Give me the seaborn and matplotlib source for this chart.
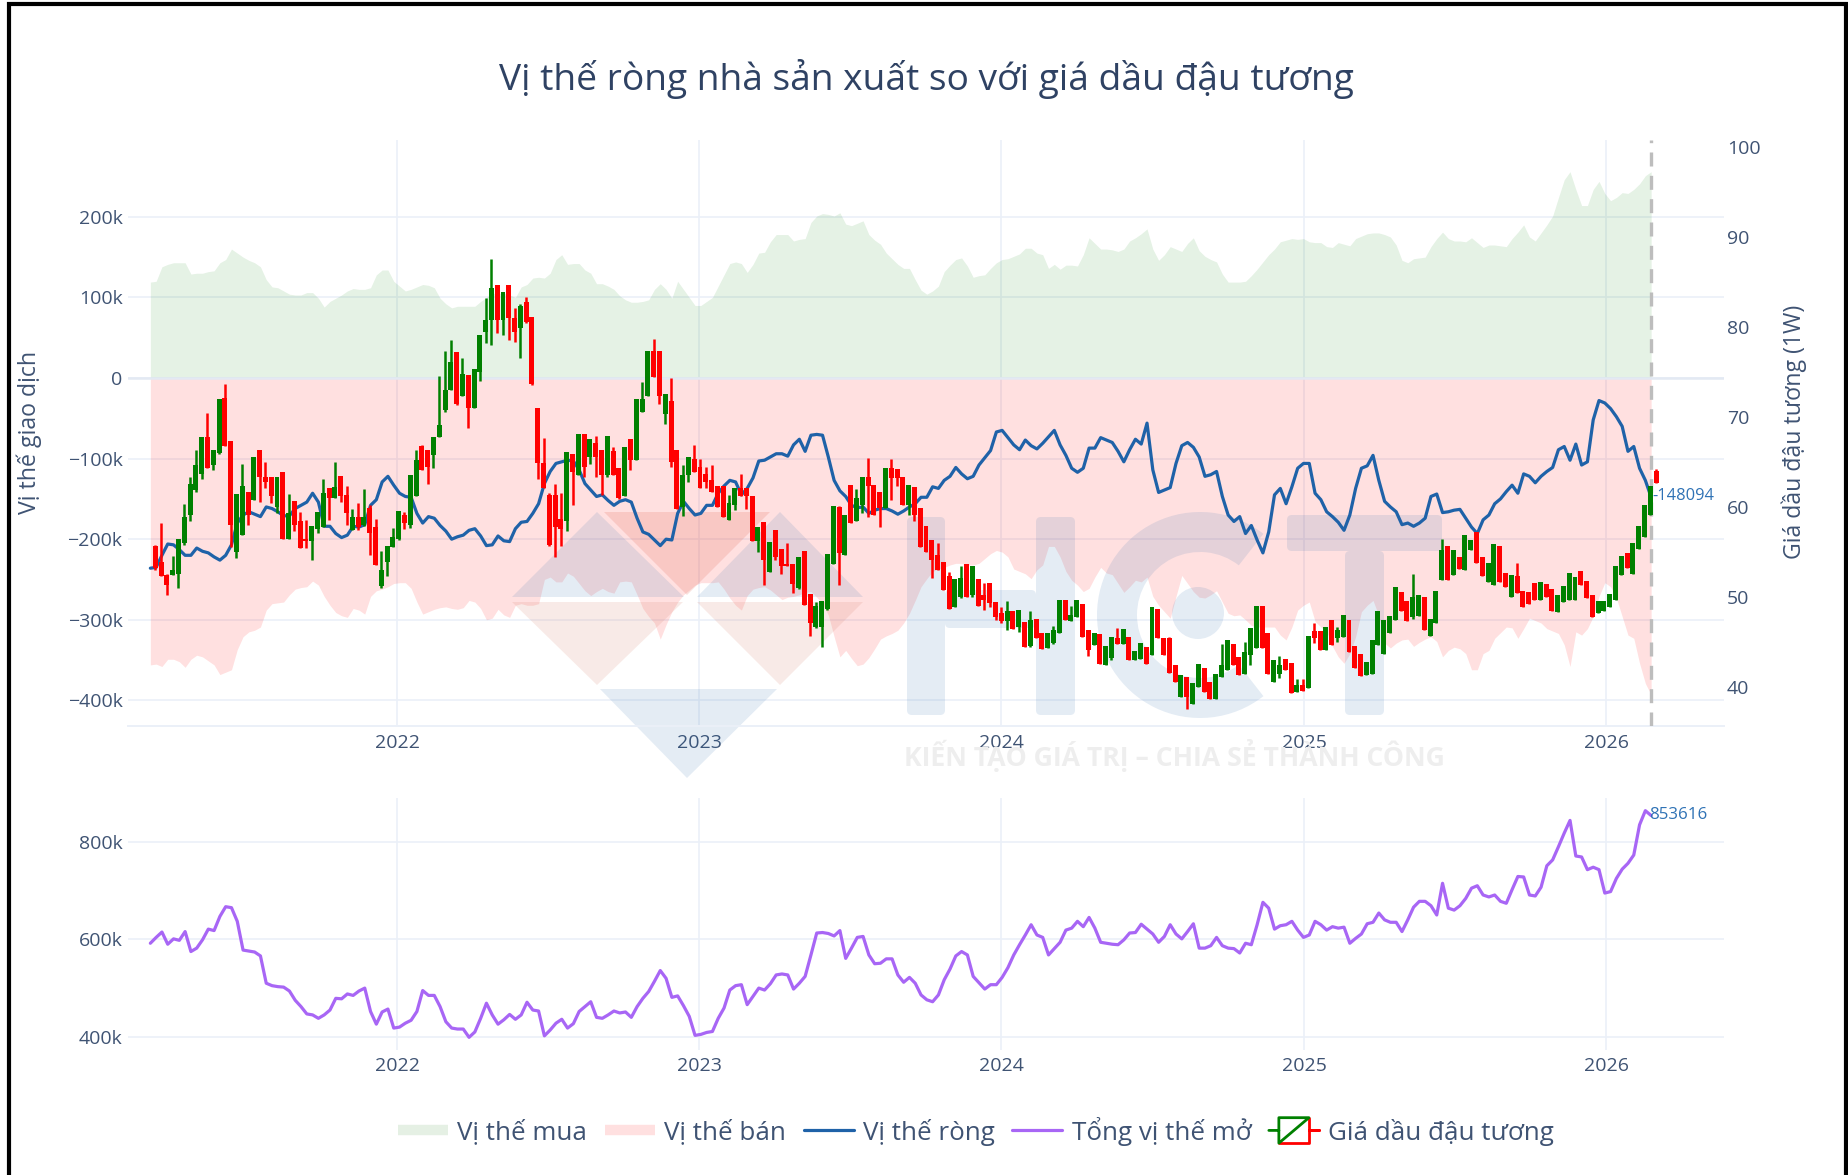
import pandas as pd
import matplotlib
matplotlib.use("Agg")
import matplotlib.pyplot as plt
from matplotlib.legend_handler import HandlerBase
from matplotlib.lines import Line2D
from matplotlib.patches import FancyBboxPatch, Polygon, Wedge, Circle
from matplotlib.transforms import Affine2D
import seaborn as sns

# ---------------------------------------------------
# 1. Data (weekly)
# ---------------------------------------------------

long_pos = [
    119, 120, 138, 141, 143, 143, 143, 129, 130, 130, 132, 133, 143, 147, 160, 155, 150, 146, 143, 138,
    122, 113, 112, 108, 104, 103, 103, 106, 106, 99, 88, 95, 99, 103, 108, 111, 110, 110, 112, 128,
    134, 134, 120, 114, 108, 110, 113, 116, 115, 112, 99, 92, 87, 89, 89, 89, 89, 95, 100, 105,
    105, 105, 103, 100, 113, 116, 124, 125, 124, 130, 147, 153, 141, 142, 142, 134, 130, 117, 117, 114,
    110, 102, 97, 94, 94, 95, 97, 110, 117, 110, 99, 120, 110, 100, 90, 90, 95, 100, 114, 128,
    142, 144, 142, 131, 141, 155, 156, 169, 178, 178, 178, 170, 172, 173, 193, 201, 204, 203, 201, 205,
    191, 189, 192, 195, 178, 171, 166, 155, 148, 141, 136, 136, 122, 109, 104, 108, 114, 132, 140, 147,
    149, 139, 125, 127, 128, 136, 143, 147, 148, 151, 154, 161, 161, 155, 153, 136, 141, 135, 140, 140,
    139, 153, 174, 167, 160, 160, 159, 157, 160, 170, 174, 179, 185, 160, 146, 153, 163, 160, 157, 167,
    174, 158, 151, 147, 144, 129, 119, 119, 119, 120, 127, 135, 144, 153, 160, 169, 171, 173, 172, 173,
    169, 168, 168, 163, 162, 168, 166, 164, 173, 176, 179, 180, 180, 178, 175, 165, 146, 143, 148, 149,
    150, 163, 173, 181, 173, 170, 170, 169, 174, 168, 162, 165, 165, 164, 163, 173, 181, 190, 175, 170,
    180, 190, 201, 224, 246, 256, 234, 214, 214, 234, 244, 229, 220, 224, 230, 229, 234, 241, 251, 256,
]

short_pos = [
    -356, -355, -358, -349, -349, -352, -359, -349, -344, -346, -351, -356, -368, -365, -362, -337, -321, -315, -313, -309,
    -288, -280, -279, -278, -269, -262, -260, -259, -252, -257, -271, -282, -291, -295, -297, -286, -288, -293, -271, -264,
    -262, -259, -255, -254, -254, -261, -278, -293, -290, -287, -285, -284, -286, -287, -285, -276, -278, -286, -300, -298,
    -287, -294, -297, -282, -280, -282, -282, -280, -250, -247, -253, -253, -242, -246, -255, -264, -270, -265, -261, -265,
    -267, -253, -252, -253, -269, -286, -296, -304, -324, -306, -290, -278, -269, -263, -257, -254, -254, -254, -253, -262,
    -273, -282, -288, -270, -262, -260, -259, -263, -269, -275, -272, -271, -269, -266, -265, -272, -280, -294, -321, -346,
    -338, -348, -357, -355, -347, -336, -324, -320, -317, -313, -304, -292, -276, -259, -249, -240, -237, -235, -232, -230,
    -230, -232, -232, -230, -224, -218, -214, -216, -222, -237, -240, -243, -249, -238, -232, -209, -209, -222, -240, -251,
    -257, -265, -261, -247, -235, -242, -244, -255, -266, -259, -251, -253, -247, -271, -282, -290, -298, -271, -245, -255,
    -265, -272, -273, -269, -264, -278, -292, -295, -294, -300, -307, -309, -309, -309, -309, -319, -325, -309, -288, -282,
    -278, -302, -309, -315, -333, -346, -354, -342, -321, -290, -282, -276, -295, -329, -335, -329, -325, -324, -333, -328,
    -324, -321, -327, -346, -338, -334, -336, -342, -362, -362, -342, -338, -323, -316, -309, -310, -323, -311, -298, -301,
    -304, -311, -314, -317, -331, -358, -315, -319, -311, -296, -271, -254, -259, -273, -296, -319, -323, -354, -379, -393,
]

net_pos = [
    -236, -235, -220, -206, -207, -213, -220, -220, -211, -215, -217, -222, -226, -220, -207, -180, -170, -166, -169, -172,
    -160, -162, -166, -171, -171, -162, -158, -154, -143, -154, -184, -184, -193, -198, -195, -184, -185, -182, -158, -151,
    -129, -122, -133, -143, -147, -148, -168, -180, -172, -174, -183, -190, -200, -197, -195, -189, -187, -196, -208, -207,
    -196, -202, -203, -187, -179, -178, -168, -156, -131, -116, -106, -104, -102, -103, -114, -131, -139, -147, -145, -152,
    -158, -153, -151, -154, -174, -191, -194, -201, -208, -200, -201, -168, -153, -162, -170, -168, -158, -158, -143, -134,
    -127, -129, -145, -137, -124, -103, -102, -98, -94, -94, -97, -83, -76, -91, -71, -70, -71, -98, -127, -140,
    -147, -158, -161, -160, -168, -164, -162, -162, -165, -169, -165, -160, -156, -148, -148, -135, -137, -127, -122, -111,
    -119, -125, -122, -108, -99, -90, -67, -65, -74, -83, -89, -77, -84, -88, -81, -73, -65, -83, -96, -112,
    -117, -112, -87, -87, -74, -77, -80, -91, -104, -89, -76, -82, -56, -114, -142, -139, -136, -106, -84, -80,
    -86, -98, -122, -120, -116, -147, -170, -178, -172, -193, -183, -201, -217, -191, -145, -137, -156, -135, -112, -106,
    -106, -143, -151, -166, -172, -179, -189, -170, -137, -112, -109, -96, -127, -153, -160, -166, -182, -180, -184, -180,
    -174, -147, -144, -167, -166, -164, -163, -174, -185, -193, -176, -170, -156, -150, -141, -133, -143, -119, -122, -130,
    -122, -116, -111, -89, -85, -102, -82, -108, -104, -52, -28, -31, -38, -48, -60, -91, -85, -112, -127, -148,
]

open_interest = [
    592, 604, 615, 590, 601, 598, 616, 575, 582, 599, 621, 618, 647, 667, 665, 637, 578, 576, 574, 566,
    510, 505, 503, 502, 494, 475, 462, 447, 445, 438, 445, 455, 479, 478, 488, 485, 494, 500, 452, 426,
    451, 457, 418, 420, 428, 434, 452, 495, 485, 485, 462, 431, 418, 416, 416, 399, 410, 438, 469, 445,
    426, 435, 446, 436, 445, 471, 455, 453, 402, 414, 428, 436, 418, 427, 452, 462, 472, 440, 438, 445,
    453, 449, 451, 440, 462, 479, 493, 514, 536, 520, 481, 484, 464, 442, 403, 405, 409, 411, 438, 459,
    496, 505, 507, 466, 483, 500, 496, 509, 527, 529, 527, 498, 510, 524, 568, 613, 614, 612, 607, 618,
    561, 582, 604, 606, 568, 550, 551, 560, 560, 527, 512, 522, 510, 486, 476, 472, 486, 517, 539, 566,
    575, 568, 524, 511, 498, 507, 507, 522, 542, 568, 589, 609, 630, 609, 604, 568, 581, 594, 619, 623,
    637, 626, 645, 623, 594, 592, 590, 589, 599, 613, 614, 631, 621, 611, 594, 606, 630, 611, 601, 616,
    632, 582, 582, 587, 604, 587, 582, 581, 572, 592, 589, 630, 676, 664, 621, 628, 630, 637, 619, 604,
    609, 637, 630, 619, 626, 623, 625, 592, 602, 611, 632, 635, 654, 640, 635, 635, 616, 640, 666, 678,
    678, 669, 650, 715, 664, 660, 669, 684, 705, 710, 691, 687, 691, 678, 674, 702, 729, 728, 691, 689,
    707, 751, 763, 790, 818, 844, 771, 769, 743, 748, 743, 695, 698, 725, 744, 756, 773, 835, 864, 854,
]

candle_open = [
    55.7, 53.9, 52.4, 52.4, 52.6, 56.0, 59.1, 61.9, 63.7, 67.8, 64.7, 66.0, 72.1, 67.3, 55.0, 56.9, 61.7, 60.8, 66.3, 63.4,
    63.4, 60.0, 63.9, 56.5, 60.7, 58.4, 56.5, 56.2, 57.6, 57.8, 62.1, 61.0, 63.5, 61.3, 57.4, 58.9, 58.0, 59.9, 57.8, 51.2,
    53.9, 55.6, 56.5, 59.1, 58.0, 61.2, 66.8, 66.3, 65.8, 67.8, 70.8, 73.0, 77.2, 72.4, 74.7, 71.0, 75.0, 79.5, 80.8, 84.7,
    80.8, 84.7, 81.0, 79.9, 82.8, 81.1, 71.0, 64.9, 61.3, 61.3, 58.7, 58.4, 65.9, 63.6, 68.1, 65.6, 67.1, 66.3, 63.6, 66.2,
    64.4, 61.2, 67.6, 65.2, 70.6, 72.4, 77.3, 77.3, 70.4, 71.8, 66.3, 60.0, 63.6, 65.4, 64.5, 63.7, 63.0, 62.3, 62.3, 58.6,
    60.2, 62.1, 62.1, 61.2, 56.2, 58.3, 52.8, 57.4, 55.3, 53.7, 53.7, 51.0, 55.1, 50.3, 46.7, 46.7, 48.7, 53.7, 60.0, 54.7,
    62.4, 58.4, 60.2, 63.3, 62.5, 61.7, 59.9, 64.3, 64.2, 63.3, 60.2, 62.2, 59.9, 57.9, 56.3, 54.7, 53.9, 52.3, 48.9, 50.0,
    53.7, 50.2, 52.0, 50.2, 51.6, 49.5, 48.2, 47.3, 48.5, 46.7, 47.2, 44.6, 47.6, 46.0, 44.3, 44.9, 46.0, 49.7, 47.3, 47.8,
    49.2, 46.3, 44.7, 45.9, 42.5, 43.2, 45.5, 44.8, 45.6, 43.0, 43.1, 44.5, 43.6, 48.7, 45.4, 45.5, 42.5, 38.9, 41.1, 38.1,
    40.0, 42.1, 40.6, 38.7, 41.1, 41.9, 44.8, 43.3, 41.5, 43.6, 44.3, 49.0, 46.0, 40.6, 41.5, 43.1, 42.7, 39.5, 40.2, 39.9,
    46.2, 46.2, 44.1, 47.5, 45.5, 45.6, 47.5, 44.6, 43.7, 41.3, 41.5, 44.7, 43.7, 46.0, 47.5, 50.6, 49.6, 47.8, 47.9, 50.0,
    45.7, 47.1, 51.9, 55.7, 52.4, 54.4, 53.0, 55.2, 57.2, 54.4, 51.7, 51.3, 55.7, 52.7, 50.0, 52.3, 50.7, 50.6, 51.6, 49.7,
    51.5, 50.9, 48.3, 49.5, 49.7, 49.7, 52.9, 51.8, 50.2, 48.2, 48.4, 48.9, 49.7, 52.4, 54.9, 52.6, 55.3, 56.7, 59.1, 64.0,
]

candle_close = [
    53.2, 52.3, 51.3, 53.0, 56.5, 58.9, 62.6, 64.7, 67.8, 64.3, 66.3, 72.0, 66.8, 58.0, 61.4, 62.3, 59.1, 65.6, 63.4, 62.8,
    61.2, 63.4, 56.5, 59.3, 58.0, 55.4, 56.2, 57.9, 59.4, 61.6, 61.0, 62.2, 61.2, 59.3, 58.9, 57.8, 58.9, 57.1, 53.6, 53.0,
    55.7, 56.7, 59.6, 58.2, 63.6, 65.2, 64.1, 64.5, 67.8, 69.1, 73.0, 76.1, 71.5, 74.8, 71.0, 75.3, 79.1, 80.8, 84.3, 80.8,
    83.9, 81.0, 79.5, 82.4, 80.6, 73.7, 64.9, 62.1, 55.8, 57.8, 57.6, 66.1, 63.9, 68.1, 64.5, 67.6, 65.6, 63.6, 67.9, 63.6,
    61.0, 66.7, 65.2, 72.0, 72.0, 77.3, 74.5, 72.4, 72.6, 65.0, 59.8, 63.6, 65.6, 63.9, 62.1, 62.8, 61.7, 60.0, 58.9, 60.4,
    62.1, 61.2, 61.2, 56.2, 57.8, 54.1, 56.1, 54.5, 53.4, 53.4, 51.5, 54.5, 49.1, 47.1, 49.0, 49.6, 54.8, 60.1, 54.9, 59.1,
    58.2, 61.0, 63.3, 62.3, 59.1, 59.9, 64.4, 63.2, 63.2, 60.2, 62.4, 59.1, 55.6, 55.0, 54.1, 53.0, 50.8, 48.7, 52.0, 52.1,
    50.0, 53.4, 49.0, 49.7, 49.3, 47.8, 47.3, 48.4, 46.5, 48.6, 44.5, 47.5, 45.4, 44.2, 46.0, 46.3, 49.7, 47.5, 48.0, 49.7,
    45.6, 44.1, 46.0, 42.6, 44.6, 45.6, 44.8, 46.5, 43.0, 44.0, 44.9, 42.6, 48.9, 45.4, 43.6, 41.6, 40.6, 41.3, 38.9, 40.5,
    42.6, 39.4, 38.7, 41.5, 42.5, 45.2, 42.4, 41.3, 43.9, 46.6, 49.0, 44.3, 41.5, 43.0, 42.5, 41.9, 39.3, 40.2, 39.6, 45.7,
    45.5, 44.1, 46.7, 44.7, 46.3, 48.0, 43.9, 42.1, 41.2, 42.8, 45.2, 48.5, 47.5, 47.9, 51.1, 48.4, 47.3, 50.0, 50.2, 46.3,
    47.6, 50.7, 55.2, 51.9, 55.2, 53.1, 56.9, 56.3, 53.8, 52.3, 53.8, 55.9, 51.7, 51.1, 52.4, 50.5, 48.9, 49.2, 49.7, 51.7,
    50.0, 48.5, 50.2, 51.2, 52.7, 52.2, 51.3, 49.9, 47.8, 49.6, 49.6, 50.3, 53.4, 54.6, 53.2, 56.0, 57.9, 60.2, 62.3, 62.7,
]

candle_high = [
    55.8, 58.2, 52.6, 54.6, 56.5, 60.3, 63.3, 66.3, 67.8, 70.5, 66.3, 72.0, 73.7, 67.3, 61.4, 64.8, 61.7, 65.6, 66.3, 65.0,
    63.4, 63.4, 63.9, 61.5, 60.7, 59.4, 58.6, 57.9, 59.4, 63.1, 62.1, 65.0, 63.5, 62.3, 59.8, 60.5, 62.0, 60.2, 58.7, 55.1,
    55.7, 57.7, 59.6, 59.5, 63.6, 66.3, 66.9, 66.3, 67.8, 74.6, 77.3, 78.6, 77.2, 76.6, 74.7, 75.3, 79.1, 83.2, 87.6, 84.7,
    83.9, 84.7, 82.1, 82.6, 83.4, 81.1, 71.0, 67.7, 61.6, 62.6, 61.6, 66.1, 65.9, 68.1, 68.1, 67.6, 67.9, 66.3, 67.9, 66.7,
    64.4, 66.7, 67.6, 72.0, 73.9, 77.3, 78.7, 77.3, 72.6, 74.4, 66.3, 64.7, 65.6, 66.9, 65.3, 64.5, 64.7, 62.3, 62.3, 61.3,
    62.1, 63.7, 62.1, 61.2, 57.8, 58.3, 56.1, 57.4, 55.3, 56.0, 53.7, 54.5, 55.1, 50.3, 49.5, 49.6, 54.8, 60.1, 60.1, 59.1,
    62.4, 62.0, 63.3, 65.5, 62.5, 61.7, 64.4, 65.3, 64.2, 63.3, 62.4, 62.2, 59.9, 57.9, 56.3, 56.0, 53.9, 52.8, 52.0, 53.5,
    53.7, 53.4, 52.0, 51.6, 51.6, 49.5, 48.9, 49.6, 48.5, 48.6, 47.2, 48.4, 47.6, 46.0, 46.0, 46.8, 49.7, 49.7, 49.0, 49.7,
    49.2, 46.3, 46.0, 45.9, 44.6, 45.6, 46.6, 46.5, 45.6, 44.0, 44.9, 44.5, 48.9, 48.7, 45.4, 45.6, 42.5, 41.3, 41.1, 40.5,
    42.6, 42.1, 40.6, 41.5, 44.8, 45.2, 44.8, 43.3, 45.0, 46.6, 49.0, 49.0, 46.0, 43.0, 43.4, 43.1, 42.7, 40.9, 40.9, 45.7,
    47.1, 46.2, 46.7, 47.5, 46.7, 48.0, 47.5, 44.6, 43.7, 42.8, 45.2, 48.5, 47.5, 47.9, 51.1, 50.6, 49.6, 52.6, 50.2, 50.0,
    47.6, 50.7, 56.4, 55.7, 55.2, 54.4, 56.9, 56.3, 57.2, 54.4, 53.8, 55.9, 55.7, 52.7, 52.4, 53.8, 50.7, 50.6, 51.6, 51.7,
    51.5, 50.9, 50.2, 51.2, 52.7, 52.2, 52.9, 51.8, 50.2, 49.6, 49.6, 50.3, 53.4, 54.6, 54.9, 56.0, 57.9, 60.2, 62.3, 64.2,
]

candle_low = [
    53.0, 52.3, 50.2, 52.4, 51.0, 55.8, 58.4, 61.7, 63.1, 64.3, 64.1, 65.9, 66.8, 55.6, 54.3, 56.9, 58.0, 60.8, 60.6, 62.1,
    60.4, 59.3, 56.5, 56.5, 57.3, 55.4, 55.4, 54.1, 57.1, 57.8, 58.6, 61.0, 60.6, 58.0, 57.4, 57.4, 57.9, 54.7, 53.6, 51.0,
    52.3, 55.6, 56.3, 57.6, 57.7, 61.2, 64.1, 62.6, 64.4, 67.8, 70.6, 73.0, 71.3, 72.4, 68.8, 71.0, 74.0, 78.2, 78.0, 79.3,
    79.1, 78.6, 78.4, 76.6, 80.5, 73.6, 63.1, 62.1, 55.7, 54.5, 55.7, 57.3, 60.2, 63.6, 63.4, 64.8, 63.3, 61.3, 63.4, 63.6,
    60.9, 61.2, 64.1, 65.2, 70.6, 72.4, 74.5, 71.5, 69.2, 64.5, 59.8, 59.0, 62.8, 63.9, 62.1, 62.1, 61.7, 60.0, 58.9, 58.6,
    59.7, 61.2, 59.8, 56.2, 55.0, 51.3, 52.8, 54.1, 52.6, 53.4, 50.5, 50.9, 49.1, 45.7, 46.6, 44.5, 48.6, 53.7, 51.3, 54.7,
    58.2, 58.4, 59.3, 58.9, 59.1, 57.8, 59.9, 60.8, 62.3, 60.2, 59.1, 58.4, 55.6, 55.0, 52.1, 53.0, 50.8, 48.7, 48.9, 49.9,
    50.0, 50.0, 49.0, 48.6, 48.9, 47.5, 47.1, 46.3, 46.5, 46.1, 44.5, 44.5, 45.4, 44.2, 44.3, 44.8, 46.0, 47.5, 47.3, 47.8,
    45.6, 43.5, 44.7, 42.6, 42.5, 43.0, 44.8, 44.8, 43.0, 43.0, 43.1, 42.6, 43.6, 45.4, 43.6, 41.6, 40.6, 38.9, 37.6, 38.1,
    40.0, 39.4, 38.7, 38.7, 41.1, 41.9, 42.4, 41.3, 41.5, 42.5, 44.3, 44.3, 41.5, 40.6, 41.0, 41.9, 39.3, 39.5, 39.6, 39.9,
    44.9, 44.1, 44.1, 44.7, 45.0, 45.6, 43.9, 42.1, 41.2, 41.3, 41.5, 44.7, 43.7, 46.0, 47.5, 48.4, 47.3, 47.6, 47.9, 46.3,
    45.7, 47.1, 51.9, 51.9, 52.4, 53.1, 53.0, 55.2, 53.8, 52.3, 51.7, 51.3, 51.7, 51.1, 50.0, 50.5, 48.9, 49.2, 49.7, 49.7,
    50.0, 48.5, 48.3, 49.5, 49.7, 49.7, 51.3, 49.9, 47.8, 48.2, 48.4, 48.9, 49.7, 52.4, 53.2, 52.6, 55.3, 56.7, 59.1, 62.7,
]

y_ticks = [-400, -300, -200, -100, 0, 100, 200]
y_tick_labels = ["−400k", "−300k", "−200k", "−100k", "0", "100k", "200k"]
y2_ticks = [40, 50, 60, 70, 80, 90, 100]
oi_ticks = [400, 600, 800]
oi_tick_labels = ["400k", "600k", "800k"]
year_ticks = pd.to_datetime(["2022-01-01", "2023-01-01", "2024-01-01", "2025-01-01", "2026-01-01"])
year_labels = ["2022", "2023", "2024", "2025", "2026"]

# ---------------------------------------------------
# 2. Figure setup
# ---------------------------------------------------

W, H = 1848, 1175
FONT = "Open Sans"
TXT = "#3f5373"
GRID = "#ebf0f8"
TICK_SIZE = 14

sns.set_theme(style="white")
plt.rcParams["font.family"] = [FONT, "DejaVu Sans"]

dates = pd.date_range("2021-03-09", periods=len(net_pos), freq="7D")
candle_dates = pd.date_range("2021-03-15", periods=len(candle_open), freq="7D")
x_lim = (pd.Timestamp("2021-02-10"), pd.Timestamp("2026-05-23"))


def box(x0, y0, x1, y1):
    return [x0 / W, 1 - y1 / H, (x1 - x0) / W, (y1 - y0) / H]


# pixel coordinates of the picture, y going down
px = Affine2D().scale(1, -1).translate(0, H)

fig = plt.figure(figsize=(W / 100, H / 100), dpi=100, facecolor="white")
ax = fig.add_axes(box(128, 140, 1724, 726))
ax_oi = fig.add_axes(box(128, 798, 1724, 1050))

# ---------------------------------------------------
# 3. Top panel
# ---------------------------------------------------

ax.fill_between(dates, 0, long_pos, color="#008000", alpha=0.1, lw=0, zorder=1)
ax.fill_between(dates, 0, short_pos, color="#ff0000", alpha=0.12, lw=0, zorder=1)


# logo behind the lines
def wm(patch):
    patch.set_transform(px)
    patch.set_clip_on(False)
    patch.set_zorder(1.5)
    ax.add_patch(patch)


BLUE = dict(fc="#2f6fb0", alpha=0.13, lw=0)
RED = dict(fc="#e0523f", alpha=0.17, lw=0)
PALE = dict(fc="#d9806a", alpha=0.16, lw=0)

wm(Polygon([(597, 512), (512, 597), (684, 597)], **BLUE))
wm(Polygon([(780, 512), (697, 597), (863, 597)], **BLUE))
wm(Polygon([(604, 512), (770, 512), (687, 595)], **RED))
wm(Polygon([(512, 602), (683, 602), (597, 685)], **PALE))
wm(Polygon([(697, 602), (863, 602), (780, 685)], **PALE))
wm(Polygon([(600, 689), (777, 689), (687, 778)], **BLUE))
for rect in [(907, 517, 38, 198), (1036, 517, 39, 198), (945, 590, 91, 38), (1287, 515, 155, 36), (1345, 551, 39, 164)]:
    wm(FancyBboxPatch(rect[:2], rect[2], rect[3], boxstyle="round,pad=0,rounding_size=5", **BLUE))
wm(Wedge((1200, 615), 103, 52, 308, width=40, **BLUE))
wm(Circle((1198, 613), 26, **BLUE))

sns.lineplot(x=dates, y=net_pos, ax=ax, color="#1f62a8", lw=2.3, sort=False, estimator=None, zorder=2)

ax.set_xlim(*x_lim)
ax.set_ylim(-431.8, 295.3)
ax.set_yticks(y_ticks)
ax.set_yticklabels(y_tick_labels)
ax.set_xticks(year_ticks)
ax.set_xticklabels(year_labels)
ax.set_axisbelow(True)
ax.grid(True, color=GRID, lw=1.2)
ax.axhline(0, color="#e3e9f3", lw=1.8, zorder=1.2)
ax.axvline(dates[-1], color="#bdbdbd", lw=2.4, ls=(0, (4.2, 2.8)), zorder=4)
ax.tick_params(axis="both", length=0, labelsize=TICK_SIZE, labelcolor=TXT, pad=4)
ax.tick_params(axis="x", pad=6)
for s in ["top", "left", "right"]:
    ax.spines[s].set_visible(False)
ax.spines["bottom"].set_color(GRID)
ax.spines["bottom"].set_linewidth(1.4)
ax.set_xlabel("")
fig.text(29 / W, 1 - 432 / H, "Vị thế giao dịch", rotation=90, ha="center", va="center", fontsize=16.7, color=TXT)

# candles on the right axis
ax2 = ax.twinx()
ax2.set_zorder(ax.get_zorder() + 1)
ax2.patch.set_visible(False)
colors = ["#008000" if c >= o else "#ff0000" for o, c in zip(candle_open, candle_close)]
ax2.vlines(candle_dates, candle_low, candle_high, colors=colors, lw=1.8)
ax2.bar(candle_dates, [abs(c - o) for o, c in zip(candle_open, candle_close)],
        bottom=[min(o, c) for o, c in zip(candle_open, candle_close)], width=6, color=colors, lw=0)
ax2.set_ylim(35.67, 100.8)
ax2.set_yticks(y2_ticks)
ax2.tick_params(axis="y", length=0, labelsize=TICK_SIZE, labelcolor=TXT, pad=2)
ax2.grid(False)
for s in ax2.spines.values():
    s.set_visible(False)
ax2.set_xlim(*x_lim)
fig.text(1794 / W, 1 - 432 / H, "Giá dầu đậu tương (1W)", rotation=90, ha="center", va="center", fontsize=16.7, color=TXT)

fig.text(1652 / W, 1 - 496 / H, "-148094", ha="left", va="center", fontsize=11.8, color="#2f72b5")

# ---------------------------------------------------
# 4. Bottom panel
# ---------------------------------------------------

sns.lineplot(x=dates, y=open_interest, ax=ax_oi, color="#a866f5", lw=2.3, sort=False, estimator=None)
ax_oi.set_xlim(*x_lim)
ax_oi.set_ylim(373, 890)
ax_oi.set_yticks(oi_ticks)
ax_oi.set_yticklabels(oi_tick_labels)
ax_oi.set_xticks(year_ticks)
ax_oi.set_xticklabels(year_labels)
ax_oi.grid(True, color=GRID, lw=1.2)
ax_oi.set_axisbelow(True)
ax_oi.tick_params(axis="both", length=0, labelsize=TICK_SIZE, labelcolor=TXT, pad=4)
ax_oi.tick_params(axis="x", pad=5)
for s in ax_oi.spines.values():
    s.set_visible(False)
ax_oi.set_xlabel("")
fig.text(1649 / W, 1 - 815 / H, "853616", ha="left", va="center", fontsize=12.2, color="#2f72b5")

# ---------------------------------------------------
# 5. Title, slogan, legend, frame
# ---------------------------------------------------

fig.text(926 / W, 1 - 79 / H, "Vị thế ròng nhà sản xuất so với giá dầu đậu tương",
         ha="center", va="center", fontsize=26.7, color="#2f4263")
fig.text(1174 / W, 1 - 755 / H, "KIẾN TẠO GIÁ TRỊ – CHIA SẺ THÀNH CÔNG",
         ha="center", va="center", fontsize=19.2, fontweight="bold", color="#eeeeee", zorder=0)


class CandleHandle:
    pass


class HandlerCandle(HandlerBase):
    def create_artists(self, legend, orig_handle, xd, yd, w, h, fontsize, trans):
        x0, x1 = -xd + w * 0.2, -xd + w * 0.8
        y0, y1 = -yd - h * 0.2, -yd + h * 1.2
        ym = (y0 + y1) / 2
        green = Line2D([-xd, x0, x0, x1, x0, x0], [ym, ym, y1, y1, y0, ym], color="#008000", lw=2)
        red = Line2D([x0, x1, x1, -xd + w, x1, x1], [y0, y0, ym, ym, ym, y1], color="#ff0000", lw=2)
        green.set_transform(trans)
        red.set_transform(trans)
        return [red, green]


handles = [
    Line2D([], [], color="#e5f0e4", lw=7.5, solid_capstyle="butt"),
    Line2D([], [], color="#ffe0e0", lw=7.5, solid_capstyle="butt"),
    Line2D([], [], color="#1f62a8", lw=2.3),
    Line2D([], [], color="#a866f5", lw=2.3),
    CandleHandle(),
]
labels = ["Vị thế mua", "Vị thế bán", "Vị thế ròng", "Tổng vị thế mở", "Giá dầu đậu tương"]
fig.legend(handles, labels, loc="center", bbox_to_anchor=(976 / W, 1 - 1131 / H), ncol=5, frameon=False,
           fontsize=18.7, labelcolor=TXT, handlelength=1.93, handletextpad=0.35, columnspacing=0.68,
           handler_map={CandleHandle: HandlerCandle()})

fig.add_artist(Line2D([9, 9, 1846, 1846], [H, 4, 4, H], color="black", lw=3, transform=px, solid_joinstyle="miter"))

fig.savefig("out.png", dpi=100)
plt.close(fig)
print("Saved: out.png")
